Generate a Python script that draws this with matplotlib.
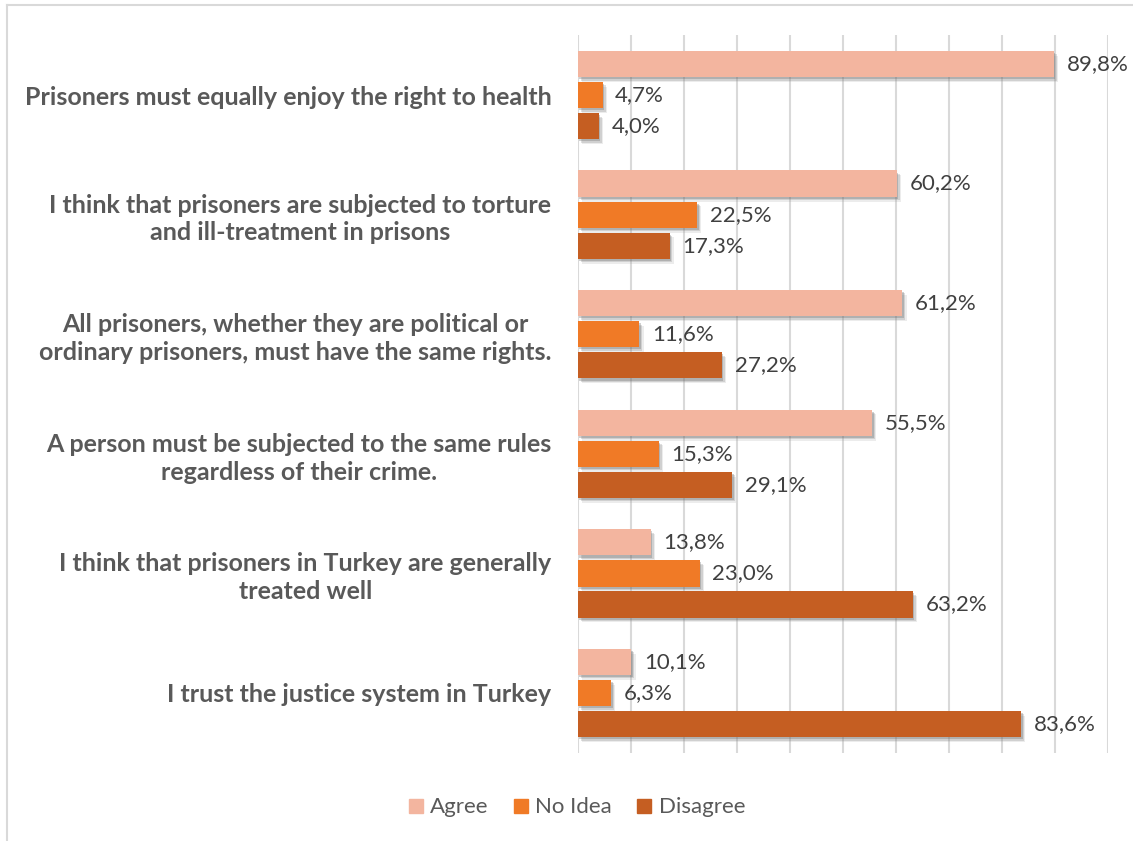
import matplotlib.pyplot as plt
import matplotlib.patheffects as pe
from matplotlib.lines import Line2D
import numpy as np

plt.rcParams['font.family'] = ['Lato', 'DejaVu Sans']

categories = [
    "Prisoners must equally enjoy the right to health",
    "I think that prisoners are subjected to torture\nand ill-treatment in prisons",
    "All prisoners, whether they are political or\nordinary prisoners, must have the same rights.",
    "A person must be subjected to the same rules\nregardless of their crime.",
    "I think that prisoners in Turkey are generally\ntreated well",
    "I trust the justice system in Turkey",
]
agree = [89.8, 60.2, 61.2, 55.5, 13.8, 10.1]
no_idea = [4.7, 22.5, 11.6, 15.3, 23.0, 6.3]
disagree = [4.0, 17.3, 27.2, 29.1, 63.2, 83.6]
series_names = ["Agree", "No Idea", "Disagree"]
colors = ["#F3B59F", "#F07A26", "#C55E22"]

fig = plt.figure(figsize=(11.33, 8.41), dpi=100)
ax = fig.add_axes([0.510, 0.105, 0.468, 0.853])

y = np.arange(len(categories))
step = 0.26
h = 0.22
# soft drop shadow
shadow = [pe.SimplePatchShadow(offset=(3, -3.5), shadow_rgbFace='#9a9a9a', alpha=0.18),
          pe.SimplePatchShadow(offset=(2, -2.5), shadow_rgbFace='#808080', alpha=0.25),
          pe.SimplePatchShadow(offset=(1, -1.5), shadow_rgbFace='#666666', alpha=0.3),
          pe.Normal()]

for i, (vals, col) in enumerate(zip([agree, no_idea, disagree], colors)):
    ypos = y + (i - 1) * step
    bars = ax.barh(ypos, vals, height=h, color=col, zorder=3)
    for b in bars:
        b.set_path_effects(shadow)
    for v, yy in zip(vals, ypos):
        ax.annotate(f"{v:.1f}%".replace('.', ','), (v, yy), xytext=(9, 0),
                    textcoords='offset points', va='center', ha='left',
                    fontsize=16, color='#404040')

ax.set_xlim(0, 100)
ax.set_ylim(len(categories) - 0.5, -0.5)
ax.set_xticks(np.arange(0, 101, 10))
ax.set_xticklabels([])
ax.tick_params(axis='x', length=0)
ax.grid(axis='x', color='#D9D9D9', linewidth=1.5, zorder=0)
ax.set_yticks(y)
ax.set_yticklabels(categories, fontsize=18, fontweight='bold', color='#595959',
                   multialignment='center', linespacing=1.25)
ax.tick_params(axis='y', length=0, pad=19)
for s in ax.spines.values():
    s.set_visible(False)

handles = [Line2D([0], [0], marker='s', linestyle='none', markersize=10,
                  markerfacecolor=c, markeredgecolor=c) for c in colors]
fig.legend(handles, series_names, loc='center', bbox_to_anchor=(0.509, 0.040),
           ncol=3, frameon=False, fontsize=16, labelcolor='#595959',
           handlelength=0.7, handletextpad=0.3, columnspacing=1.1)

# outer frame (left and top)
fig.add_artist(Line2D([0.0065, 0.0065], [0, 0.994], transform=fig.transFigure,
                      color='#D9D9D9', linewidth=1.5))
fig.add_artist(Line2D([0.0065, 1.0], [0.994, 0.994], transform=fig.transFigure,
                      color='#D9D9D9', linewidth=1.5))

fig.savefig('out.png', dpi=100)
